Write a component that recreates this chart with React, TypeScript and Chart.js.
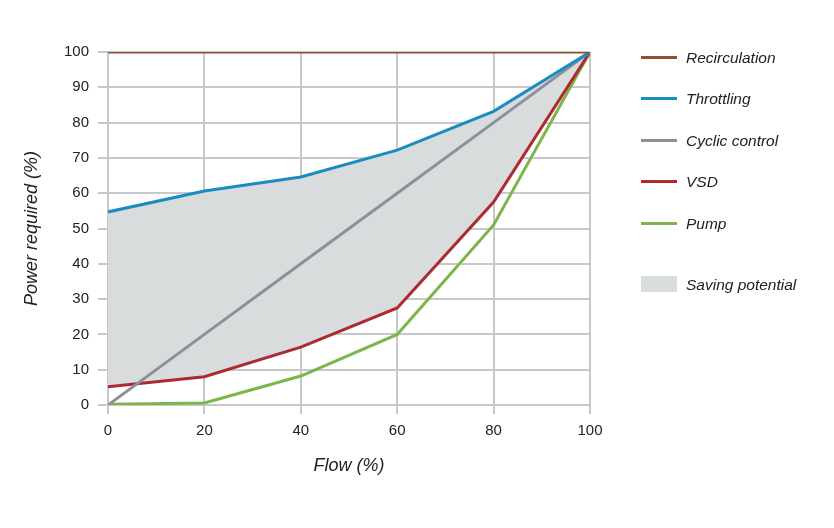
import React, { useEffect, useRef } from "react";
import { Chart, registerables } from "chart.js";

Chart.register(...registerables);

const flow = [0, 20, 40, 60, 80, 100];
const recirculation = [100, 100, 100, 100, 100, 100];
const throttling = [54.7, 60.6, 64.6, 72.2, 83.2, 100];
const cyclicControl = [0, 20, 40, 60, 80, 100];
const vsd = [5.2, 8.0, 16.4, 27.5, 57.5, 100];
const pump = [0.2, 0.6, 8.2, 20.0, 51.0, 100];
const yTicks = [0, 10, 20, 30, 40, 50, 60, 70, 80, 90, 100];

const seriesNames = ["Recirculation", "Throttling", "Cyclic control", "VSD", "Pump"];
const seriesColors = ["#934f33", "#1b8cc0", "#8d8f9b", "#ad2a31", "#7cb64a"];
const shadeName = "Saving potential";
const shadeColor = "#d9dcdd";

const toPts = (ys: number[]) => flow.map((x, i) => ({ x, y: ys[i] }));

export default function App() {
  const ref = useRef<HTMLCanvasElement | null>(null);

  useEffect(() => {
    document.body.style.margin = "0";
    const ctx = ref.current!;
    const seriesData = [recirculation, throttling, cyclicControl, vsd, pump];
    const chart = new Chart(ctx, {
      type: "line",
      data: {
        datasets: seriesData.map((d, i) => ({
          label: seriesNames[i],
          data: toPts(d),
          borderColor: seriesColors[i],
          backgroundColor: i === 1 ? shadeColor : seriesColors[i],
          borderWidth: 3,
          pointRadius: 0,
          tension: 0,
          fill: i === 1 ? 3 : false,
        })),
      },
      options: {
        animation: false,
        responsive: false,
        maintainAspectRatio: false,
        layout: { padding: { left: 0, top: 52, right: 244, bottom: 0 } },
        plugins: {
          legend: { display: false },
          tooltip: { enabled: false },
          filler: { drawTime: "beforeDatasetsDraw" },
        } as any,
        scales: {
          x: {
            type: "linear",
            min: 0,
            max: 100,
            afterBuildTicks: (s: any) => {
              s.ticks = flow.map((v) => ({ value: v }));
            },
            afterFit: (s: any) => {
              s.height = 123;
            },
            grid: { color: "#c8c8c8", lineWidth: 2, tickLength: 9 },
            border: { display: false },
            ticks: {
              color: "#222",
              padding: 8,
              font: { family: "'Liberation Sans', Arial, sans-serif", size: 15 },
              maxRotation: 0,
            },
            title: {
              display: true,
              text: "Flow (%)",
              color: "#222",
              padding: { top: 0, bottom: 51 },
              font: { family: "'Liberation Sans', Arial, sans-serif", size: 18, style: "italic" },
            },
          },
          y: {
            type: "linear",
            min: 0,
            max: 100,
            afterBuildTicks: (s: any) => {
              s.ticks = yTicks.map((v) => ({ value: v }));
            },
            afterFit: (s: any) => {
              s.width = 108;
            },
            grid: { color: "#c8c8c8", lineWidth: 2, tickLength: 10 },
            border: { display: false },
            ticks: {
              color: "#222",
              padding: 9,
              font: { family: "'Liberation Sans', Arial, sans-serif", size: 15 },
            },
            title: {
              display: true,
              text: "Power required (%)",
              color: "#222",
              padding: { top: 21, bottom: 0 },
              font: { family: "'Liberation Sans', Arial, sans-serif", size: 18, style: "italic" },
            },
          },
        },
      } as any,
    });
    return () => chart.destroy();
  }, []);

  const legendY = [57, 98, 140, 181, 223];
  const fontStyle: React.CSSProperties = {
    position: "absolute",
    left: 686,
    fontFamily: "'Liberation Sans', Arial, sans-serif",
    fontStyle: "italic",
    fontSize: 15.5,
    color: "#222",
    lineHeight: "18px",
    whiteSpace: "nowrap",
  };

  return (
    <div style={{ position: "fixed", left: 0, top: 0, width: 834, height: 528, background: "#fff" }}>
      <canvas ref={ref} width={834} height={528} style={{ position: "absolute", left: 0, top: 0 }} />
      {seriesNames.map((n, i) => (
        <React.Fragment key={n}>
          <div
            style={{
              position: "absolute",
              left: 641,
              top: legendY[i] - 1.5,
              width: 36,
              height: 3,
              background: seriesColors[i],
            }}
          />
          <div style={{ ...fontStyle, top: legendY[i] - 8 }}>{n}</div>
        </React.Fragment>
      ))}
      <div style={{ position: "absolute", left: 641, top: 276, width: 36, height: 16, background: shadeColor }} />
      <div style={{ ...fontStyle, top: 276 }}>{shadeName}</div>
    </div>
  );
}
